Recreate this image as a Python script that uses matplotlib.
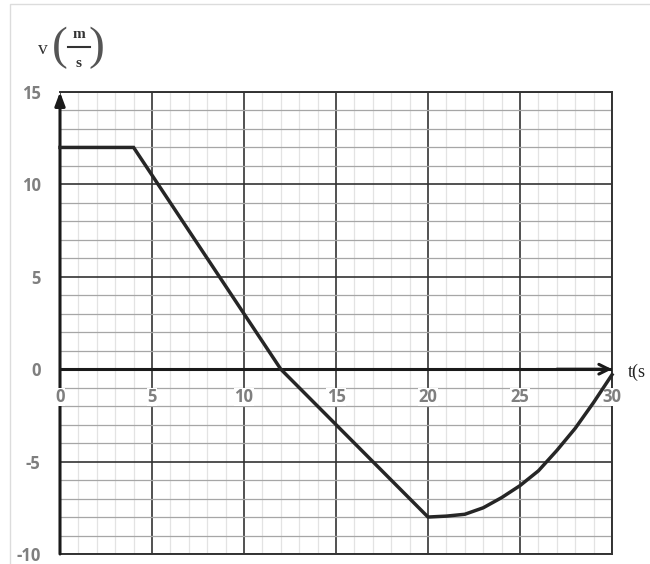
import matplotlib
matplotlib.use("Agg")
import matplotlib.pyplot as plt
from matplotlib.patches import Rectangle
from matplotlib.lines import Line2D
import numpy as np

# Data
t = [0, 4, 12, 20, 21, 22, 23, 24, 25, 26, 27, 28, 29, 30]
v = [12, 12, 0, -8, -7.95, -7.85, -7.5, -6.95, -6.3, -5.5, -4.4, -3.2, -1.8, -0.3]

x_ticks = [0, 5, 10, 15, 20, 25, 30]
y_ticks = [-10, -5, 0, 5, 10, 15]
x_label = "t(s"
y_sym, y_num, y_den = "v", "m", "s"

fig = plt.figure(figsize=(6.5, 5.64), dpi=100)
ax = fig.add_axes([60/650, 1-554/564, 552/650, 462/564])
ax.set_xlim(0, 30)
ax.set_ylim(-10, 15)

# grid
ax.set_xticks(x_ticks)
ax.set_xticks(np.arange(0, 31, 1), minor=True)
ax.set_yticks(y_ticks)
ax.set_yticks(np.arange(-10, 16, 1), minor=True)
ax.xaxis.grid(True, which='minor', color='#e3e3e3', lw=0.9)
ax.yaxis.grid(True, which='minor', color='#a6a6a6', lw=0.9)
ax.xaxis.grid(True, which='major', color='#333333', lw=1.2)
ax.yaxis.grid(True, which='major', color='#333333', lw=1.2)
ax.set_axisbelow(True)
ax.tick_params(which='both', length=0)
ax.set_xticklabels([])
ax.set_yticklabels([str(y) for y in y_ticks], color='#7f7f7f', fontweight='bold',
                   fontsize=12, family='Open Sans')
ax.tick_params(axis='y', pad=14)
for s in ax.spines.values():
    s.set_color('#333333')
    s.set_linewidth(1.4)
ax.spines['left'].set_visible(False)

# axes with arrows
ax.plot([0, 30], [0, 0], color='#1a1a1a', lw=2.2, zorder=3, solid_capstyle='butt')
ax.annotate('', xy=(30, 0), xytext=(27, 0),
            arrowprops=dict(arrowstyle='->,head_length=0.7,head_width=0.35', lw=2.2,
                            color='#1a1a1a', shrinkA=0, shrinkB=0), zorder=3,
            annotation_clip=False)
ax.annotate('', xy=(0, 15), xytext=(0, -10),
            arrowprops=dict(arrowstyle='-|>,head_length=0.8,head_width=0.3', lw=2.2,
                            color='#1a1a1a', shrinkA=0, shrinkB=0), zorder=3,
            annotation_clip=False)

# x tick labels placed under the zero line
for xv in x_ticks:
    ax.text(xv, -1.5, str(xv), ha='center', va='center', color='#7f7f7f',
            fontweight='bold', fontsize=12, family='Open Sans', zorder=4,
            bbox=dict(fc='white', ec='none', pad=0.3))

# curve
ax.plot(t, v, color='#262626', lw=2.5, zorder=6, clip_on=False, solid_joinstyle='miter')

# y-axis unit label v(m/s) with a stacked fraction
W, H = 650, 564
def fx(px):
    return px / W
def fy(py):
    return 1 - py / H
serif = 'Liberation Serif'
fig.text(fx(43), fy(49), y_sym, fontsize=14, family=serif, ha='center', va='center', color='#333333')
fig.text(fx(60), fy(48), "(", fontsize=34, family=serif, ha='center', va='center', color='#555555',
         fontweight='light')
fig.text(fx(96), fy(48), ")", fontsize=34, family=serif, ha='center', va='center', color='#555555',
         fontweight='light')
fig.text(fx(79), fy(34), y_num, fontsize=11, family=serif, fontweight='bold', ha='center',
         va='center', color='#333333')
fig.text(fx(79), fy(64), y_den, fontsize=11, family=serif, fontweight='bold', ha='center',
         va='center', color='#333333')
fig.add_artist(Line2D([fx(68), fx(90)], [fy(47), fy(47)], transform=fig.transFigure,
                      color='#333333', lw=1.5))

fig.text(628/650, 1-372/564, x_label, fontsize=13, va='center', ha='left',
         family=serif, color='#222222')

fig.patches.append(Rectangle((10/650, -0.1), 1.2, 1.1-4/564, transform=fig.transFigure,
                             fill=False, ec='#dcdcdc', lw=1))

fig.savefig('out.png', dpi=100)
